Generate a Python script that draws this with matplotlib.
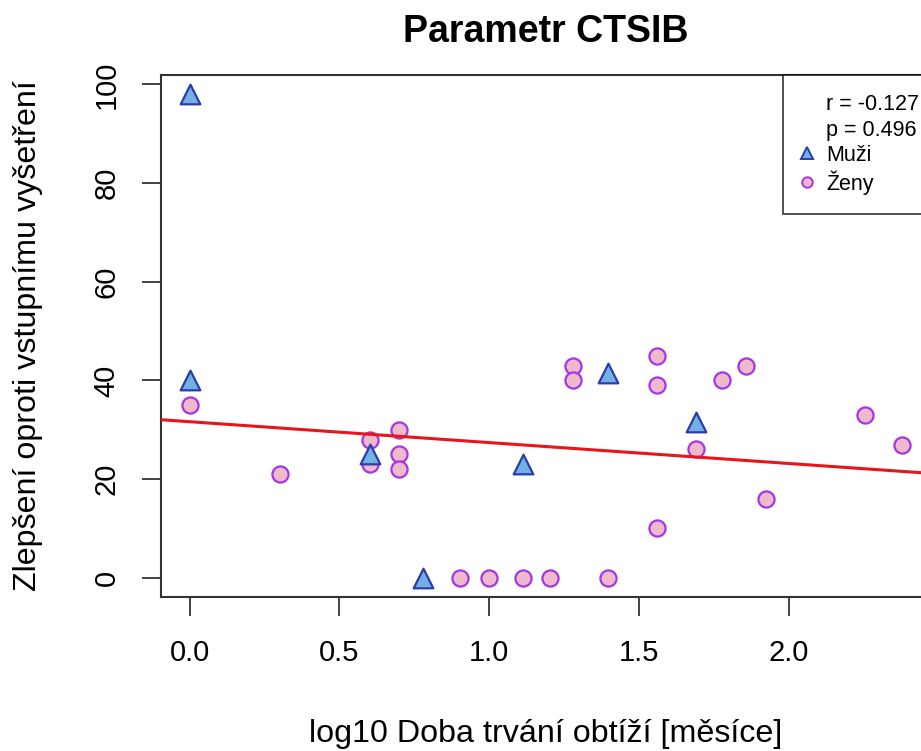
import numpy as np
import matplotlib
matplotlib.use("Agg")
import matplotlib.pyplot as plt
from matplotlib.lines import Line2D

plt.rcParams['font.family'] = ['Liberation Sans', 'DejaVu Sans']

# Data
male_x = [0.0, 0.0, 0.602, 0.778, 1.114, 1.398, 1.690]
male_y = [98, 40, 25, 0, 23, 41.5, 31.5]
female_x = [0.0, 0.301, 0.602, 0.602, 0.699, 0.699, 0.699, 0.903, 1.0, 1.114,
            1.204, 1.279, 1.279, 1.398, 1.562, 1.562, 1.562, 1.690, 1.778,
            1.857, 1.924, 2.255, 2.380]
female_y = [35, 21, 28, 23, 30, 25, 22, 0, 0, 0,
            0, 43, 40, 0, 45, 39, 10, 26, 40,
            43, 16, 33, 27]
r_text = "r = -0.127"
p_text = "p = 0.496"
title = "Parametr CTSIB"
xlabel = "log10 Doba trvání obtíží [měsíce]"
ylabel = "Zlepšení oproti vstupnímu vyšetření"
xticks = [0.0, 0.5, 1.0, 1.5, 2.0]
xticklabels = ["0.0", "0.5", "1.0", "1.5", "2.0"]
yticks = [0, 20, 40, 60, 80, 100]

W, H = 921, 751
fig = plt.figure(figsize=(W/100, H/100), dpi=100)
left, right, top, bottom = 161, 931, 75, 597
ax = fig.add_axes([left/W, 1-bottom/H, (right-left)/W, (bottom-top)/H])

allx = np.array(male_x + female_x)
ally = np.array(male_y + female_y)

ax.scatter(female_x, female_y, marker='o', s=135, facecolor='#EDB9CB',
           edgecolor='#A436E6', linewidths=1.6, zorder=3)
ax.scatter(male_x, male_y, marker='^', s=200, facecolor='#72B0E6',
           edgecolor='#2C3CA8', linewidths=1.6, zorder=3)

# regression line from data
slope, intercept = np.polyfit(allx, ally, 1)
xs = np.array([-1, 3])
ax.plot(xs, intercept + slope*xs, color='#E8151B', lw=2.2, zorder=4)

xmin, xmax = allx.min(), allx.max()
ymin, ymax = ally.min(), ally.max()
dx = 0.04*(xmax-xmin); dy = 0.04*(ymax-ymin)
ax.set_xlim(xmin-dx, xmax+dx)
ax.set_ylim(ymin-dy, ymax+dy)

ax.set_xticks(xticks)
ax.set_xticklabels(xticklabels, fontsize=21)
ax.set_yticks(yticks)
ax.set_yticklabels([str(v) for v in yticks], fontsize=21, rotation=90, va='center')
ax.tick_params(axis='both', length=13.5, width=1.3, color='#333333')
ax.tick_params(axis='x', pad=17)
ax.tick_params(axis='y', pad=15.5)
for s in ax.spines.values():
    s.set_linewidth(1.5)
    s.set_color('#333333')

fig.text(546/W, 1-32/H, title, ha='center', va='center', fontsize=27, fontweight='bold')
fig.text(546/W, 1-734/H, xlabel, ha='center', va='center', fontsize=23.2)
fig.text(28/W, 1-336/H, ylabel, ha='center', va='center', fontsize=23.2, rotation=90)

handles = [Line2D([], [], ls='none', marker=None),
           Line2D([], [], ls='none', marker=None),
           Line2D([], [], ls='none', marker='^', markersize=9, markerfacecolor='#72B0E6',
                  markeredgecolor='#2C3CA8', markeredgewidth=1.4),
           Line2D([], [], ls='none', marker='o', markersize=7.5, markerfacecolor='#EDB9CB',
                  markeredgecolor='#A436E6', markeredgewidth=1.4)]
labels = [r_text, p_text, "Muži", "Ženy"]
leg = ax.legend(handles, labels, loc='upper left',
                bbox_to_anchor=((783-left)/(right-left), 1.0),
                fontsize=15.5, frameon=True, fancybox=False, edgecolor='black',
                handlelength=0.4, handletextpad=0.7, borderpad=0.9, labelspacing=0.2,
                borderaxespad=0)
leg.get_frame().set_linewidth(1.2)

fig.savefig('out.png', dpi=100)
